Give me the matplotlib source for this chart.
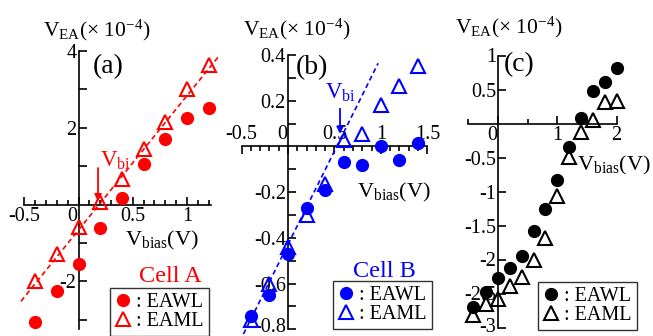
import matplotlib
matplotlib.use('Agg')
import matplotlib.pyplot as plt
import numpy as np
from matplotlib.transforms import ScaledTranslation
from matplotlib.ticker import FixedLocator

plt.rcParams['font.family'] = ['Liberation Serif', 'DejaVu Serif']
plt.rcParams['mathtext.fontset'] = 'custom'
plt.rcParams['mathtext.rm'] = 'Liberation Serif'
plt.rcParams['mathtext.it'] = 'Liberation Serif:italic'
plt.rcParams['mathtext.bf'] = 'Liberation Serif:bold'

W, H = 653, 336
fig = plt.figure(figsize=(W / 100, H / 100), dpi=100)

# ---------------- data ----------------
bias_a = [-0.4, -0.2, 0.0, 0.2, 0.4, 0.6, 0.8, 1.0, 1.2]
eawl_a = [-3.05, -2.26, -1.55, -0.61, 0.16, 1.05, 1.70, 2.26, 2.52]
eaml_a = [-2.00, -1.29, -0.58, 0.07, 0.66, 1.44, 2.15, 3.00, 3.63]
fit_x_a = [-0.53, 1.29]
vbi_a, slope_a = 0.19, 3.5

bias_b = [-0.4, -0.2, 0.0, 0.2, 0.4, 0.6, 0.8, 1.0, 1.2, 1.4]
eawl_b = [-0.74, -0.65, -0.47, -0.27, -0.19, -0.07, -0.08, 0.0, -0.06, 0.015]
eaml_b = [-0.76, -0.60, -0.44, -0.30, -0.165, 0.03, 0.055, 0.18, 0.265, 0.35]
fit_x_b = [-0.48, 0.97]
vbi_b, slope_b = 0.525, 0.817

bias_c = [-0.42, -0.2, 0.0, 0.2, 0.4, 0.6, 0.8, 1.0, 1.2, 1.4, 1.6, 1.8, 2.0]
eawl_c = [-2.70, -2.48, -2.27, -2.12, -1.95, -1.58, -1.26, -0.83, -0.34, 0.08, 0.48, 0.61, 0.81]
eaml_c = [-2.81, -2.66, -2.58, -2.39, -2.25, -2.01, -1.68, -1.06, -0.49, -0.13, 0.05, 0.32, 0.33]

xt_a = [-0.5, 0, 0.5, 1]
xtl_a = ['-0.5', '0', '0.5', '1']
yt_a = [-3, -2, -1, 1, 2, 3, 4]
ytl_a = ['', '-2', '', '', '2', '', '4']

xt_b = [-0.5, 0, 0.5, 1, 1.5]
xtl_b = ['-0.5', '0', '0.5', '1', '1.5']
yt_b = [-0.8, -0.7, -0.6, -0.5, -0.4, -0.3, -0.2, -0.1, 0.1, 0.2, 0.3, 0.4]
ytl_b = ['-0.8', '', '-0.6', '', '-0.4', '', '-0.2', '', '', '0.2', '', '0.4']

xt_c = [0, 1, 2]
xtl_c = ['0', '1', '2']
yt_c = [-3, -2.5, -2, -1.5, -1, -0.5, 0.5, 1]
ytl_c = ['-3', '-2.5', '-2', '-1.5', '-1', '-0.5', '0.5', '1']

legend_labels = [' : EAWL', ' : EAML']

RED, BLUE, BLACK = '#ff0000', '#0000ff', '#000000'
TICK_FS = 14.5
VEA_FS = 15.5
VBIAS_FS = 16
CELL_FS = 17.5
LEG_FS = 14.5
PANEL_FS = 20
VBI_FS = 16.5


def px(x, y):
    return x / W, 1 - y / H


def make_ax(ox, oy, sx, sy, xlim, ylim):
    left = ox + sx * xlim[0]
    right = ox + sx * xlim[1]
    top = oy - sy * ylim[1]
    bottom = oy - sy * ylim[0]
    ax = fig.add_axes([left / W, 1 - bottom / H, (right - left) / W, (bottom - top) / H])
    ax.set_xlim(xlim)
    ax.set_ylim(ylim)
    ax.patch.set_visible(False)
    return ax


def style_axes(ax, xspine, xb, yb, xt, xtl, yt, ytl, xminor, low_shift=2.5):
    for s in ['left', 'right', 'top', 'bottom']:
        ax.spines[s].set_visible(False)
    ax.spines['left'].set_visible(True)
    ax.spines['left'].set_position(('data', 0))
    ax.spines['left'].set_bounds(*yb)
    ax.spines[xspine].set_visible(True)
    ax.spines[xspine].set_position(('data', 0))
    ax.spines[xspine].set_bounds(*xb)
    for s in ['left', xspine]:
        ax.spines[s].set_linewidth(1.2)
    if xspine == 'top':
        ax.xaxis.set_ticks_position('top')
    else:
        ax.xaxis.set_ticks_position('bottom')
    ax.yaxis.set_ticks_position('left')
    ax.set_xticks(xt)
    ax.set_xticklabels(xtl)
    ax.set_yticks(yt)
    ax.set_yticklabels(ytl)
    ax.xaxis.set_minor_locator(FixedLocator(xminor))
    ax.tick_params(which='major', direction='in', length=6, width=1.2,
                   labelsize=TICK_FS, pad=2)
    ax.tick_params(which='minor', direction='in', length=3.5, width=1.2)
    ax.tick_params(axis='y', which='major', length=5.5, pad=1.5)
    # shift the "0" x label left of the y axis
    for lab in ax.get_xticklabels():
        if lab.get_text() == '0':
            lab.set_transform(lab.get_transform() +
                              ScaledTranslation(-6 / 100, 0, fig.dpi_scale_trans))
    # keep the lowest y label inside the figure
    ylabs = ax.get_yticklabels()
    ylabs[0].set_transform(ylabs[0].get_transform() +
                           ScaledTranslation(0, low_shift / 100, fig.dpi_scale_trans))


def plot_panel(ax, x, wl, ml, color):
    h1, = ax.plot(x, wl, linestyle='none', marker='o', ms=8.5, color=color,
                  mec=color, clip_on=False, zorder=4)
    h2, = ax.plot(x, ml, linestyle='none', marker='^', ms=9.5, mfc='none',
                  mec=color, mew=1.5, clip_on=False, zorder=5)
    return h1, h2


def add_legend(handles, x0, y0):
    leg = fig.legend(handles, legend_labels, loc='upper left',
                     bbox_to_anchor=px(x0, y0), frameon=True, fancybox=False,
                     edgecolor='#333333', framealpha=1, fontsize=LEG_FS,
                     handlelength=0.8, handletextpad=0.0, borderpad=0.25,
                     labelspacing=0.0, borderaxespad=0)
    leg.get_frame().set_linewidth(1.0)
    return leg


# ---------------- panel (a) ----------------
axa = make_ax(78.5, 204.5, 108.5, 38.4, (-0.6, 1.35), (-3.4, 4.2))
style_axes(axa, 'bottom', (-0.5, 1.22), (-3.25, 4.0), xt_a, xtl_a, yt_a, ytl_a,
           list(np.round(np.arange(-0.4, 1.21, 0.1), 2)))
ha = plot_panel(axa, bias_a, eawl_a, eaml_a, RED)
fx = np.array(fit_x_a)
axa.plot(fx, slope_a * (fx - vbi_a), color=RED, lw=1.2, dashes=(3, 2), zorder=3)
axa.annotate('', xy=(0.18, 0.08), xytext=(0.18, 0.95),
             arrowprops=dict(arrowstyle='-|>', color=RED, lw=1.3, mutation_scale=10,
                             shrinkA=0, shrinkB=0))
axa.text(0.2, 0.98, r'V$_{\mathrm{bi}}$', color=RED, fontsize=VBI_FS, ha='left', va='baseline')
add_legend(ha, 110, 288)
fig.text(*px(170, 282), 'Cell A', color=RED, fontsize=CELL_FS, ha='center', va='baseline')
fig.text(*px(93, 73), '(a)', fontsize=PANEL_FS, ha='left', va='baseline')
fig.text(*px(43, 36.5), r'V$_{\mathrm{EA}}$(× 10$^{-4}$)', fontsize=VEA_FS, ha='left', va='baseline')
fig.text(*px(125, 245), r'V$_{\mathrm{bias}}$(V)', fontsize=VBIAS_FS, ha='left', va='baseline')

# ---------------- panel (b) ----------------
axb = make_ax(288, 146.4, 92.9, 228.6, (-0.55, 1.55), (-0.85, 0.45))
style_axes(axb, 'top', (-0.5, 1.5), (-0.8, 0.4), xt_b, xtl_b, yt_b, ytl_b,
           list(np.round(np.arange(-0.4, 1.41, 0.1), 2)), low_shift=4.5)
hb = plot_panel(axb, bias_b, eawl_b, eaml_b, BLUE)
fx = np.array(fit_x_b)
axb.plot(fx, slope_b * (fx - vbi_b), color=BLUE, lw=1.2, dashes=(3, 2), zorder=3)
axb.annotate('', xy=(0.56, 0.055), xytext=(0.56, 0.165),
             arrowprops=dict(arrowstyle='-|>', color=BLUE, lw=1.3, mutation_scale=10,
                             shrinkA=0, shrinkB=0))
axb.text(0.40, 0.21, r'V$_{\mathrm{bi}}$', color=BLUE, fontsize=VBI_FS, ha='left', va='baseline')
add_legend(hb, 333, 281)
fig.text(*px(384, 277), 'Cell B', color=BLUE, fontsize=CELL_FS, ha='center', va='baseline')
fig.text(*px(296, 74), '(b)', fontsize=PANEL_FS, ha='left', va='baseline')
fig.text(*px(243, 35), r'V$_{\mathrm{EA}}$(× 10$^{-4}$)', fontsize=VEA_FS, ha='left', va='baseline')
fig.text(*px(357, 197), r'V$_{\mathrm{bias}}$(V)', fontsize=VBIAS_FS, ha='left', va='baseline')

# ---------------- panel (c) ----------------
axc = make_ax(498, 123.5, 59.3, 68, (-0.55, 2.2), (-3.1, 1.1))
style_axes(axc, 'bottom', (-0.5, 2.0), (-3.0, 1.0), xt_c, xtl_c, yt_c, ytl_c,
           [-0.5, 0.5, 1.5])
hc = plot_panel(axc, bias_c, eawl_c, eaml_c, BLACK)
add_legend(hc, 538, 282)
fig.text(*px(504, 71), '(c)', fontsize=PANEL_FS, ha='left', va='baseline')
fig.text(*px(455, 33), r'V$_{\mathrm{EA}}$(× 10$^{-4}$)', fontsize=VEA_FS, ha='left', va='baseline')
fig.text(*px(651, 170), r'V$_{\mathrm{bias}}$(V)', fontsize=VBIAS_FS, ha='right', va='baseline')

fig.savefig('out.png', dpi=100)
